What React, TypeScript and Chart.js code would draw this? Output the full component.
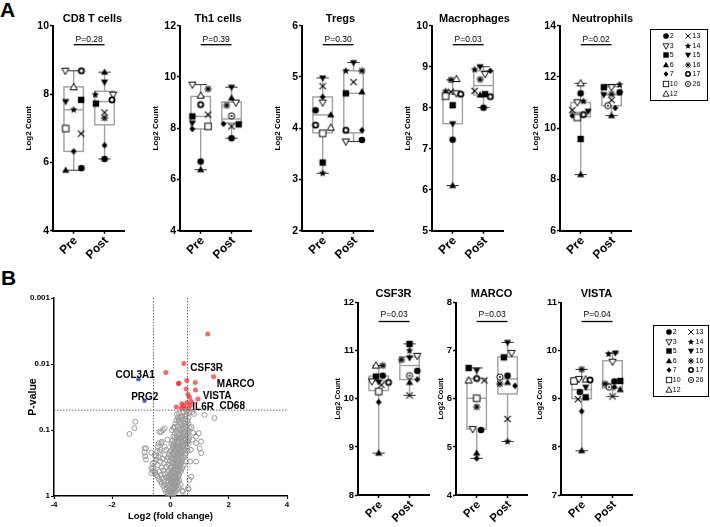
import React, { useEffect, useRef } from 'react';
import { Chart, registerables } from 'chart.js';
Chart.register(...registerables);

const FONT = '"Liberation Sans", Arial, Helvetica, sans-serif';

type Pt = [number, number];

// ---------- DATA ----------
const patientIds = [2, 3, 5, 6, 7, 10, 12, 13, 14, 15, 16, 17, 26];
const groupLabels = ['Pre', 'Post'];

// [patient id, log2 count]
const cd8Pre: Pt[] = [[3, 8.68], [17, 8.68], [12, 8.2], [15, 7.78], [5, 7.83], [14, 7.54], [10, 6.99], [13, 6.84], [7, 6.32], [6, 5.77], [2, 5.83]];
const cd8PreDx = [-0.27, 0.25, 0, -0.26, 0.24, 0, -0.26, 0.24, 0, -0.26, 0.25];
const cd8Post: Pt[] = [[6, 8.64], [15, 8.35], [14, 7.98], [3, 7.98], [5, 7.72], [17, 7.83], [13, 7.46], [16, 7.3], [7, 6.5], [2, 6.1]];
const cd8PostDx = [0, 0, -0.3, 0.28, -0.28, 0.24, 0, 0, 0, 0];
const cd8PreBox = [5.77, 6.32, 7.54, 8.21, 8.68];
const cd8PostBox = [6.1, 7.1, 7.78, 8.08, 8.64];

const th1Pre: Pt[] = [[3, 9.7], [16, 9.53], [12, 9.27], [17, 8.92], [5, 8.46], [13, 8.53], [15, 8.2], [10, 8.07], [7, 7.97], [2, 6.7], [6, 6.38]];
const th1PreDx = [-0.27, 0.24, 0, 0, -0.27, 0.24, -0.27, 0.24, -0.27, 0, 0];
const th1Post: Pt[] = [[15, 9.6], [6, 9.18], [16, 8.89], [3, 9.0], [26, 8.48], [7, 8.17], [13, 8.07], [5, 8.15], [2, 7.61]];
const th1PostDx = [0, 0, -0.16, 0.14, 0, -0.26, 0, 0.23, 0];
const th1PreBox = [6.38, 7.97, 8.46, 9.24, 9.7];
const th1PostBox = [7.61, 8.2, 8.36, 9.02, 9.6];

const tregPre: Pt[] = [[15, 4.98], [13, 4.82], [7, 4.61], [3, 4.5], [2, 4.35], [6, 4.26], [17, 4.06], [12, 4.01], [10, 3.9], [5, 3.33], [14, 3.12]];
const tregPreDx = [0, 0, 0, 0, -0.23, 0.26, -0.23, 0.26, 0, 0, 0];
const tregPost: Pt[] = [[15, 5.28], [14, 5.12], [16, 5.12], [13, 4.9], [5, 4.68], [6, 4.71], [17, 3.96], [7, 3.96], [3, 3.74], [2, 3.77]];
const tregPostDx = [0, -0.25, 0.27, 0, -0.25, 0.27, -0.25, 0.27, -0.25, 0.27];
const tregPreBox = [3.12, 3.91, 4.26, 4.61, 4.98];
const tregPostBox = [3.74, 3.91, 4.68, 5.12, 5.28];

const macPre: Pt[] = [[16, 8.68], [12, 8.7], [14, 8.4], [13, 8.39], [3, 8.35], [17, 8.33], [10, 8.28], [5, 8.06], [15, 7.61], [2, 7.22], [6, 6.1]];
const macPreDx = [-0.06, 0.12, -0.23, -0.06, 0.12, 0.26, -0.23, 0, 0, 0, 0];
const macPost: Pt[] = [[14, 8.93], [15, 9.0], [7, 8.9], [3, 8.82], [16, 8.69], [13, 8.41], [6, 8.31], [5, 8.33], [17, 8.27], [2, 8.0]];
const macPostDx = [-0.29, -0.11, 0.22, 0.05, -0.11, -0.29, -0.11, 0.05, 0.22, 0];
const macPreBox = [6.1, 7.61, 8.33, 8.38, 8.68];
const macPostBox = [8.0, 8.31, 8.54, 8.9, 9.0];

const neuPre: Pt[] = [[12, 11.75], [2, 11.36], [3, 11.01], [14, 11.05], [13, 10.71], [7, 10.49], [15, 10.66], [10, 10.42], [17, 10.53], [5, 9.58], [6, 8.19]];
const neuPreDx = [0, 0, -0.11, 0.09, -0.27, -0.27, 0.24, -0.11, 0.09, 0, 0];
const neuPost: Pt[] = [[5, 11.6], [3, 11.6], [14, 11.7], [15, 11.31], [16, 11.33], [2, 11.4], [13, 11.1], [26, 10.88], [7, 10.79], [6, 10.49]];
const neuPostDx = [-0.25, 0, 0.26, -0.25, 0, 0.26, 0, -0.12, 0.12, 0];
const neuPreBox = [8.19, 10.45, 10.62, 11.0, 11.75];
const neuPostBox = [10.49, 10.88, 11.3, 11.62, 11.7];

const csfPre: Pt[] = [[12, 10.69], [16, 10.69], [5, 10.46], [2, 10.48], [3, 10.36], [15, 10.35], [13, 10.29], [17, 10.34], [10, 10.15], [7, 9.93], [6, 8.87]];
const csfPreDx = [-0.09, 0.13, -0.09, 0.13, -0.22, 0, 0.09, 0.32, 0, 0, 0];
const csfPost: Pt[] = [[5, 11.14], [14, 11.0], [15, 10.85], [16, 10.81], [3, 10.89], [2, 10.58], [26, 10.48], [7, 10.4], [6, 10.34], [13, 10.07]];
const csfPostDx = [0, 0, 0, -0.26, 0.25, 0.25, 0, 0.25, 0, 0];
const csfPreBox = [8.87, 10.17, 10.37, 10.47, 10.69];
const csfPostBox = [10.07, 10.4, 10.69, 10.87, 11.14];

const marPre: Pt[] = [[5, 6.64], [15, 6.59], [17, 6.42], [12, 6.38], [13, 6.38], [10, 6.01], [16, 5.83], [3, 5.37], [2, 5.35], [6, 4.87], [7, 4.76]];
const marPreDx = [-0.26, 0, 0, -0.26, 0.25, 0, 0, -0.13, 0.14, 0, 0];
const marPost: Pt[] = [[15, 7.17], [3, 6.95], [5, 6.86], [26, 6.45], [2, 6.48], [16, 6.31], [6, 6.34], [7, 6.27], [13, 5.58], [14, 5.11]];
const marPostDx = [0, 0.13, -0.12, -0.25, 0, -0.25, 0, 0.24, 0, 0];
const marPreBox = [4.76, 5.37, 6.01, 6.42, 6.64];
const marPostBox = [5.11, 6.1, 6.41, 6.87, 7.17];

const visPre: Pt[] = [[16, 9.61], [10, 9.37], [3, 9.41], [12, 9.4], [17, 9.39], [15, 9.24], [2, 9.14], [13, 8.99], [5, 9.03], [7, 8.74], [6, 7.92]];
const visPreDx = [0, -0.25, -0.09, 0.13, 0.27, 0.13, -0.06, -0.12, 0.13, 0, 0];
const visPost: Pt[] = [[14, 9.93], [15, 9.95], [3, 9.77], [16, 9.31], [26, 9.24], [2, 9.36], [5, 9.37], [7, 9.24], [6, 9.19], [13, 9.05]];
const visPostDx = [-0.13, 0.09, 0, -0.24, -0.11, 0.06, 0.25, 0.06, 0.25, 0];
const visPreBox = [7.92, 9.0, 9.19, 9.41, 9.61];
const visPostBox = [9.05, 9.22, 9.32, 9.79, 9.95];

// Volcano: [log2 fold change, p-value]
const volcanoGray: Pt[] = [
  [0.02, 0.99], [-0.05, 0.96], [0.08, 0.95], [-0.1, 0.92], [0.12, 0.91], [0.0, 0.89], [-0.15, 0.87], [0.05, 0.86], [0.18, 0.85],
  [-0.08, 0.83], [0.1, 0.81], [-0.2, 0.79], [0.22, 0.79], [0.0, 0.77], [-0.12, 0.75], [0.15, 0.74], [0.28, 0.73], [-0.25, 0.71],
  [0.06, 0.71], [-0.04, 0.69], [0.2, 0.69], [0.35, 0.68], [-0.18, 0.67], [0.12, 0.65], [-0.3, 0.65], [0.25, 0.63], [0.02, 0.63],
  [0.4, 0.83], [0.62, 0.79], [0.71, 0.51], [0.42, 0.86], [0.6, 0.76], [0.65, 0.57],
  [-0.35, 0.6], [-0.22, 0.6], [-0.1, 0.58], [-0.4, 0.55], [-0.28, 0.54], [-0.15, 0.52], [-0.05, 0.5], [-0.45, 0.5], [-0.33, 0.48],
  [-0.2, 0.46], [-0.52, 0.45], [-0.1, 0.44], [-0.38, 0.43], [-0.25, 0.41], [-0.6, 0.42], [-0.66, 0.45], [-0.6, 0.38], [-0.49, 0.28],
  [-0.3, 0.37], [-0.15, 0.36], [-0.44, 0.34], [-0.22, 0.32], [-0.35, 0.3], [-0.55, 0.31], [-0.12, 0.29], [-0.28, 0.27], [-0.4, 0.26],
  [-0.5, 0.25], [-0.66, 0.22], [-0.84, 0.28], [-0.87, 0.25], [-0.89, 0.22], [-0.89, 0.19], [-0.61, 0.32], [-0.66, 0.38], [-0.55, 0.43],
  [-0.49, 0.48], [-0.55, 0.24], [-0.84, 0.19], [-0.38, 0.214], [-0.2, 0.24],
  [-0.41, 0.16], [-0.32, 0.107], [-0.2, 0.094], [-0.26, 0.1], [-0.38, 0.107], [-0.35, 0.2], [-0.2, 0.18], [-0.3, 0.15], [-0.45, 0.21],
  [-0.1, 0.14], [-0.15, 0.2], [-0.32, 0.158], [-0.44, 0.178],
  [-1.41, 0.115], [-1.24, 0.094], [-1.21, 0.075],
  [0.3, 0.056], [0.45, 0.055], [0.55, 0.058], [0.38, 0.06], [0.25, 0.064], [0.5, 0.062], [0.62, 0.065], [0.35, 0.066],
  [0.2, 0.072], [0.42, 0.07], [0.58, 0.073], [0.3, 0.075], [0.48, 0.078], [0.16, 0.08], [0.37, 0.082], [0.62, 0.08],
  [0.25, 0.088], [0.53, 0.09], [0.1, 0.092], [0.43, 0.094], [0.66, 0.093], [0.32, 0.1], [0.2, 0.104], [0.57, 0.101], [0.47, 0.107], [0.05, 0.1],
  [0.15, 0.112], [0.38, 0.113], [0.6, 0.115], [0.28, 0.118], [0.5, 0.12], [0.1, 0.126], [0.42, 0.125], [0.22, 0.13], [0.56, 0.128], [0.33, 0.134], [0.65, 0.132],
  [0.18, 0.14], [0.48, 0.142], [0.07, 0.145], [0.3, 0.148], [0.6, 0.146], [0.4, 0.15], [0.12, 0.158], [0.25, 0.16], [0.52, 0.157], [0.36, 0.165],
  [0.03, 0.163], [0.45, 0.168], [0.62, 0.162], [0.2, 0.176], [0.08, 0.18], [0.4, 0.178], [0.3, 0.185], [0.55, 0.183], [0.15, 0.19],
  [0.05, 0.2], [0.25, 0.198], [0.47, 0.2], [0.35, 0.205], [0.12, 0.21], [0.58, 0.208], [-0.02, 0.212], [0.2, 0.222], [0.4, 0.225], [0.08, 0.23],
  [0.3, 0.232], [0.52, 0.228], [-0.05, 0.235], [0.15, 0.248], [0.35, 0.25], [0.02, 0.255], [0.25, 0.26], [0.45, 0.258], [-0.1, 0.262],
  [0.1, 0.28], [0.3, 0.282], [0.2, 0.29], [0.4, 0.288], [-0.02, 0.295], [0.5, 0.3], [0.05, 0.316], [0.25, 0.32], [0.15, 0.33], [0.35, 0.325],
  [-0.08, 0.335], [0.45, 0.34], [0.1, 0.355], [0.2, 0.36], [0.3, 0.37], [0.0, 0.365], [0.4, 0.375], [0.08, 0.4], [0.18, 0.405], [-0.05, 0.41],
  [0.28, 0.415], [0.36, 0.42], [0.12, 0.45], [0.0, 0.455], [0.22, 0.46], [0.3, 0.47], [0.05, 0.5], [0.15, 0.51], [0.25, 0.52], [-0.08, 0.515],
  [0.1, 0.56], [0.2, 0.57], [0.0, 0.575], [0.3, 0.58], [0.08, 0.62], [0.18, 0.63], [-0.06, 0.61],
  [0.22, 0.058], [0.4, 0.063], [0.52, 0.068], [0.28, 0.07], [0.35, 0.077], [0.55, 0.083], [0.45, 0.086], [0.15, 0.09], [0.3, 0.095],
  [0.4, 0.1], [0.62, 0.105], [0.25, 0.11], [0.45, 0.115], [0.55, 0.122], [0.35, 0.127], [0.15, 0.13], [0.28, 0.138], [0.5, 0.137],
  [0.38, 0.143], [0.22, 0.152], [0.58, 0.153], [0.1, 0.168], [0.33, 0.172], [0.5, 0.174], [0.25, 0.18], [0.45, 0.19], [0.18, 0.2],
  [0.4, 0.21], [0.28, 0.215], [0.1, 0.22], [0.5, 0.24], [0.25, 0.24], [0.38, 0.265], [0.08, 0.27], [0.18, 0.272], [0.28, 0.3],
  [0.38, 0.305], [0.1, 0.31], [0.2, 0.34], [0.3, 0.345], [0.05, 0.37], [0.15, 0.38], [0.25, 0.39], [0.35, 0.395], [0.12, 0.42],
  [0.22, 0.43], [0.05, 0.44], [0.18, 0.48], [0.28, 0.495], [0.0, 0.49], [0.1, 0.53], [0.22, 0.54], [-0.04, 0.545], [0.15, 0.6],
  [0.05, 0.59], [0.25, 0.6], [0.1, 0.68], [-0.1, 0.7], [0.15, 0.8], [0.05, 0.92], [-0.02, 0.84], [0.08, 0.76],
  [0.88, 0.126], [1.05, 0.15], [1.0, 0.19], [1.05, 0.224], [1.17, 0.059], [1.51, 0.066], [0.97, 0.112], [0.88, 0.158], [0.88, 0.3],
  [0.72, 0.09], [0.75, 0.14], [0.7, 0.2], [0.78, 0.11], [0.68, 0.3], [0.55, 0.052], [0.65, 0.054], [0.75, 0.053], [0.8, 0.057],
];
const volcanoUp: Pt[] = [
  [1.28, 0.0035], [0.46, 0.0098], [-0.16, 0.0134], [1.48, 0.0156], [0.56, 0.0178], [0.29, 0.0195], [0.27, 0.0197], [0.85, 0.019],
  [0.54, 0.024], [0.86, 0.0247], [0.6, 0.029], [0.94, 0.034], [0.65, 0.032], [0.39, 0.04], [0.56, 0.0386], [0.71, 0.037],
  [0.68, 0.042], [0.2, 0.045], [0.37, 0.047], [0.51, 0.047], [0.63, 0.048], [0.45, 0.043],
];
const volcanoDown: Pt[] = [[-1.1, 0.017], [-0.89, 0.036]];
const geneLabelNames = ['COL3A1', 'PRG2', 'CSF3R', 'MARCO', 'VISTA', 'IL6R', 'CD68'];
const geneLabelAnchors: Pt[] = [[-1.89, 0.0147], [-1.35, 0.0324], [0.68, 0.0116], [1.59, 0.02], [1.11, 0.0313], [0.75, 0.0453], [1.68, 0.0433]];
const fcCut = 0.585;
const pCut = 0.05;
const volcanoXTicks = [-4, -2, 0, 2, 4];
const volcanoYTicks = [0.001, 0.01, 0.1, 1];

// ---------- MARKERS ----------
function drawMarker(ctx: CanvasRenderingContext2D, id: number, c: number) {
  ctx.fillStyle = '#000';
  ctx.strokeStyle = '#000';
  ctx.lineWidth = 1;
  const poly = (pts: number[][], filled: boolean) => {
    ctx.beginPath();
    pts.forEach(([x, y], i) => (i ? ctx.lineTo(c + x, c + y) : ctx.moveTo(c + x, c + y)));
    ctx.closePath();
    if (filled) { ctx.fillStyle = '#000'; ctx.fill(); }
    else { ctx.fillStyle = '#fff'; ctx.fill(); ctx.stroke(); }
  };
  const up = [[0, -3.8], [3.6, 2.6], [-3.6, 2.6]];
  const down = [[0, 3.8], [3.6, -2.6], [-3.6, -2.6]];
  const line = (x1: number, y1: number, x2: number, y2: number) => {
    ctx.beginPath(); ctx.moveTo(c + x1, c + y1); ctx.lineTo(c + x2, c + y2); ctx.stroke();
  };
  switch (id) {
    case 2: ctx.beginPath(); ctx.arc(c, c, 3.3, 0, Math.PI * 2); ctx.fill(); break;
    case 3: poly(down, false); break;
    case 5: ctx.fillRect(c - 3.2, c - 3.2, 6.4, 6.4); break;
    case 6: poly(up, true); break;
    case 7: poly([[0, -3.3], [2.9, 0], [0, 3.3], [-2.9, 0]], true); break;
    case 10: ctx.fillStyle = '#fff'; ctx.fillRect(c - 3.2, c - 3.2, 6.4, 6.4); ctx.strokeRect(c - 3.2, c - 3.2, 6.4, 6.4); break;
    case 12: poly(up, false); break;
    case 13: ctx.lineWidth = 1.1; line(-3.2, -3.2, 3.2, 3.2); line(-3.2, 3.2, 3.2, -3.2); break;
    case 14: {
      const pts: number[][] = [];
      for (let k = 0; k < 10; k++) {
        const a = -Math.PI / 2 + (k * Math.PI) / 5;
        const r = k % 2 ? 1.7 : 4;
        pts.push([r * Math.cos(a), r * Math.sin(a)]);
      }
      poly(pts, true);
      break;
    }
    case 15: poly(down, true); break;
    case 16: {
      ctx.lineWidth = 1.1;
      line(0, -3.6, 0, 3.6); line(-3.6, 0, 3.6, 0);
      line(-2.6, -2.6, 2.6, 2.6); line(-2.6, 2.6, 2.6, -2.6);
      ctx.beginPath(); ctx.arc(c, c, 1.3, 0, Math.PI * 2); ctx.fill();
      break;
    }
    case 17: ctx.lineWidth = 1.8; ctx.fillStyle = '#fff'; ctx.beginPath(); ctx.arc(c, c, 2.6, 0, Math.PI * 2); ctx.fill(); ctx.stroke(); break;
    case 26: {
      ctx.fillStyle = '#fff'; ctx.beginPath(); ctx.arc(c, c, 3.1, 0, Math.PI * 2); ctx.fill(); ctx.stroke();
      ctx.fillStyle = '#000'; ctx.beginPath(); ctx.arc(c, c, 1, 0, Math.PI * 2); ctx.fill();
      break;
    }
  }
}

const markerCache = new Map<number, HTMLCanvasElement>();
function markerCanvas(id: number): HTMLCanvasElement {
  let cv = markerCache.get(id);
  if (!cv) {
    cv = document.createElement('canvas');
    cv.width = 12; cv.height = 12;
    drawMarker(cv.getContext('2d')!, id, 6);
    markerCache.set(id, cv);
  }
  return cv;
}

// ---------- LAYOUT ----------
interface Row { top: number; height: number; areaTop: number; areaBottom: number; titleY: number; pTextY: number; pLineY: number; tickSize: number; yTitleSize: number; labelSize: number; }
const ROW_A: Row = { top: 0, height: 265, areaTop: 25.7, areaBottom: 230.7, titleY: 18.5, pTextY: 39.5, pLineY: 44.7, tickSize: 10.5, yTitleSize: 8, labelSize: 12 };
const ROW_B: Row = { top: 270, height: 257, areaTop: 302.5, areaBottom: 495, titleY: 293.5, pTextY: 314.5, pLineY: 321.5, tickSize: 9.5, yTitleSize: 7.5, labelSize: 11.5 };

const PRE_X = 0.67, POST_X = 1.67, X_MAX = 2.3;
const BOX_HALF = 0.315, CAP_HALF = 0.2;
const LEFT_PAD = 20, Y_AXIS_W = 30, PLOT_W = 71, RIGHT_PAD = 14;

interface Panel {
  title: string; pText: string; yMin: number; yMax: number; yStep: number;
  pre: Pt[]; preDx: number[]; post: Pt[]; postDx: number[]; preBox: number[]; postBox: number[];
  axisX: number; row: Row; titleDx: number; yTitleGap: number;
}

const panels: Panel[] = [
  { title: 'CD8 T cells', pText: 'P=0.28', yMin: 4, yMax: 10, yStep: 2, pre: cd8Pre, preDx: cd8PreDx, post: cd8Post, postDx: cd8PostDx, preBox: cd8PreBox, postBox: cd8PostBox, axisX: 53, row: ROW_A, titleDx: 4, yTitleGap: 24 },
  { title: 'Th1 cells', pText: 'P=0.39', yMin: 4, yMax: 12, yStep: 2, pre: th1Pre, preDx: th1PreDx, post: th1Post, postDx: th1PostDx, preBox: th1PreBox, postBox: th1PostBox, axisX: 180, row: ROW_A, titleDx: 2.5, yTitleGap: 24 },
  { title: 'Tregs', pText: 'P=0.30', yMin: 2, yMax: 6, yStep: 1, pre: tregPre, preDx: tregPreDx, post: tregPost, postDx: tregPostDx, preBox: tregPreBox, postBox: tregPostBox, axisX: 302, row: ROW_A, titleDx: 3, yTitleGap: 24 },
  { title: 'Macrophages', pText: 'P=0.03', yMin: 5, yMax: 10, yStep: 1, pre: macPre, preDx: macPreDx, post: macPost, postDx: macPostDx, preBox: macPreBox, postBox: macPostBox, axisX: 432, row: ROW_A, titleDx: 7, yTitleGap: 24 },
  { title: 'Neutrophils', pText: 'P=0.02', yMin: 6, yMax: 14, yStep: 2, pre: neuPre, preDx: neuPreDx, post: neuPost, postDx: neuPostDx, preBox: neuPreBox, postBox: neuPostBox, axisX: 560, row: ROW_A, titleDx: 7, yTitleGap: 24 },
  { title: 'CSF3R', pText: 'P=0.03', yMin: 8, yMax: 12, yStep: 1, pre: csfPre, preDx: csfPreDx, post: csfPost, postDx: csfPostDx, preBox: csfPreBox, postBox: csfPostBox, axisX: 358, row: ROW_B, titleDx: 0, yTitleGap: 20.5 },
  { title: 'MARCO', pText: 'P=0.03', yMin: 4, yMax: 8, yStep: 1, pre: marPre, preDx: marPreDx, post: marPost, postDx: marPostDx, preBox: marPreBox, postBox: marPostBox, axisX: 456, row: ROW_B, titleDx: 0, yTitleGap: 15.5 },
  { title: 'VISTA', pText: 'P=0.04', yMin: 7, yMax: 11, yStep: 1, pre: visPre, preDx: visPreDx, post: visPost, postDx: visPostDx, preBox: visPreBox, postBox: visPostBox, axisX: 561, row: ROW_B, titleDx: 0, yTitleGap: 21 },
];

function boxPlugin(panel: Panel) {
  const row = panel.row;
  return {
    id: 'boxPanel',
    beforeDatasetsDraw(chart: any) {
      const { ctx, scales: { x, y } } = chart;
      const groups: [number, number[]][] = [[PRE_X, panel.preBox], [POST_X, panel.postBox]];
      ctx.save();
      groups.forEach(([cx, b]) => {
        const [mn, q1, med, q3, mx] = b;
        const xl = x.getPixelForValue(cx - BOX_HALF);
        const xr = x.getPixelForValue(cx + BOX_HALF);
        const xc = x.getPixelForValue(cx);
        const cl = x.getPixelForValue(cx - CAP_HALF);
        const cr = x.getPixelForValue(cx + CAP_HALF);
        const seg = (x1: number, y1: number, x2: number, y2: number) => { ctx.beginPath(); ctx.moveTo(x1, y1); ctx.lineTo(x2, y2); ctx.stroke(); };
        ctx.strokeStyle = '#a0a0a0';
        ctx.lineWidth = 1.4;
        seg(xc, y.getPixelForValue(mn), xc, y.getPixelForValue(q1));
        seg(xc, y.getPixelForValue(q3), xc, y.getPixelForValue(mx));
        ctx.strokeRect(xl, y.getPixelForValue(q3), xr - xl, y.getPixelForValue(q1) - y.getPixelForValue(q3));
        seg(xl, y.getPixelForValue(med), xr, y.getPixelForValue(med));
        ctx.strokeStyle = '#333';
        ctx.lineWidth = 1;
        seg(cl, y.getPixelForValue(mn), cr, y.getPixelForValue(mn));
        seg(cl, y.getPixelForValue(mx), cr, y.getPixelForValue(mx));
      });
      ctx.restore();
    },
    afterDraw(chart: any) {
      const { ctx, chartArea, scales: { x } } = chart;
      ctx.save();
      ctx.fillStyle = '#000';
      ctx.textAlign = 'center';
      ctx.textBaseline = 'middle';
      ctx.font = `bold 11px ${FONT}`;
      ctx.fillText(panel.title, (chartArea.left + chartArea.right) / 2 + panel.titleDx, row.titleY - row.top);
      const xp = x.getPixelForValue(PRE_X);
      const xq = x.getPixelForValue(POST_X);
      ctx.font = `8.5px ${FONT}`;
      ctx.fillText(panel.pText, (xp + xq) / 2, row.pTextY - row.top);
      ctx.strokeStyle = '#000';
      ctx.lineWidth = 1.3;
      ctx.beginPath();
      ctx.moveTo(xp, row.pLineY - row.top);
      ctx.lineTo(xq, row.pLineY - row.top);
      ctx.stroke();
      ctx.restore();
    },
  };
}

function boxConfig(panel: Panel): any {
  const row = panel.row;
  const areaTop = row.areaTop - row.top;
  const areaBottom = row.areaBottom - row.top;
  const yTitleLH = row.yTitleSize * 1.2;
  const axisCanvasX = LEFT_PAD + Y_AXIS_W;
  const yTitlePad = Math.max(0, axisCanvasX - panel.yTitleGap - LEFT_PAD - yTitleLH / 2);
  const mk = (pts: Pt[], dx: number[], cx: number) => ({
    data: pts.map((p, i) => ({ x: cx + dx[i], y: p[1] })),
    pointStyle: pts.map((p) => markerCanvas(p[0])),
    pointRadius: 4,
    pointHoverRadius: 4,
    showLine: false,
  });
  const axisCommon = {
    grid: { display: true, drawOnChartArea: false, drawTicks: true, tickLength: 3, tickWidth: 1.5, tickColor: '#000' },
    border: { display: true, color: '#000', width: 2 },
  };
  return {
    type: 'scatter',
    data: { datasets: [mk(panel.pre, panel.preDx, PRE_X), mk(panel.post, panel.postDx, POST_X)] },
    options: {
      animation: false,
      responsive: false,
      maintainAspectRatio: false,
      events: [],
      layout: { padding: { left: LEFT_PAD, top: areaTop, right: RIGHT_PAD, bottom: 0 } },
      plugins: { legend: { display: false }, tooltip: { enabled: false }, title: { display: false } },
      scales: {
        x: {
          type: 'linear', min: 0, max: X_MAX,
          afterBuildTicks: (s: any) => { s.ticks = [{ value: PRE_X }, { value: POST_X }]; },
          afterFit: (s: any) => { s.height = row.height - areaBottom; },
          ticks: {
            autoSkip: false, minRotation: 45, maxRotation: 45, padding: 0, labelOffset: 2, color: '#000',
            font: { family: FONT, size: row.labelSize, weight: 'bold' },
            callback: (v: number) => (Math.abs(v - PRE_X) < 1e-6 ? groupLabels[0] : groupLabels[1]),
          },
          ...axisCommon,
        },
        y: {
          type: 'linear', min: panel.yMin, max: panel.yMax,
          afterFit: (s: any) => { s.width = Y_AXIS_W; },
          ticks: { stepSize: panel.yStep, padding: 1, color: '#000', font: { family: FONT, size: row.tickSize, weight: 'bold' } },
          title: { display: true, text: 'Log2 Count', color: '#000', font: { family: FONT, size: row.yTitleSize, weight: 'bold' }, padding: { top: yTitlePad, bottom: 0 } },
          ...axisCommon,
        },
      },
    },
    plugins: [boxPlugin(panel)],
  };
}

const labelPlugin = {
  id: 'geneLabels',
  afterDatasetsDraw(chart: any) {
    const { ctx, scales: { x, y } } = chart;
    ctx.save();
    ctx.fillStyle = '#000';
    ctx.font = `bold 10px ${FONT}`;
    ctx.textAlign = 'left';
    ctx.textBaseline = 'middle';
    geneLabelNames.forEach((name, i) => {
      const [fc, p] = geneLabelAnchors[i];
      ctx.fillText(name, x.getPixelForValue(fc), y.getPixelForValue(p));
    });
    ctx.restore();
  },
};

function volcanoConfig(): any {
  const dash = { showLine: true, pointRadius: 0, borderColor: '#666', borderWidth: 1, borderDash: [1.5, 1.5] };
  const toXY = (arr: Pt[]) => arr.map(([x, y]) => ({ x, y }));
  const axisCommon = {
    grid: { display: true, drawOnChartArea: false, drawTicks: true, tickLength: 3, tickWidth: 1.2, tickColor: '#000' },
    border: { display: true, color: '#000', width: 1.5 },
  };
  return {
    type: 'scatter',
    data: {
      datasets: [
        { ...dash, data: [{ x: -fcCut, y: volcanoYTicks[0] }, { x: -fcCut, y: 1 }] },
        { ...dash, data: [{ x: fcCut, y: volcanoYTicks[0] }, { x: fcCut, y: 1 }] },
        { ...dash, data: [{ x: -4, y: pCut }, { x: 4, y: pCut }] },
        { data: toXY(volcanoGray), pointRadius: 2.5, pointBackgroundColor: 'rgba(255,255,255,0)', pointBorderColor: '#999', pointBorderWidth: 1 },
        { data: toXY(volcanoUp), pointRadius: 2.5, pointBackgroundColor: 'rgba(245,45,45,0.72)', pointBorderWidth: 0 },
        { data: toXY(volcanoDown), pointRadius: 2.2, pointBackgroundColor: '#4a5bd4', pointBorderWidth: 0 },
      ],
    },
    options: {
      animation: false,
      responsive: false,
      maintainAspectRatio: false,
      events: [],
      layout: { padding: { left: 20, top: 28, right: 13, bottom: 0 } },
      plugins: { legend: { display: false }, tooltip: { enabled: false } },
      scales: {
        x: {
          type: 'linear', min: -4, max: 4,
          afterBuildTicks: (s: any) => { s.ticks = volcanoXTicks.map((v) => ({ value: v })); },
          afterFit: (s: any) => { s.height = 31; },
          ticks: { maxRotation: 0, padding: 1, color: '#000', font: { family: FONT, size: 8, weight: 'bold' } },
          title: { display: true, text: 'Log2 (fold change)', color: '#000', font: { family: FONT, size: 9.5, weight: 'bold' }, padding: { top: 0, bottom: 4.6 } },
          ...axisCommon,
        },
        y: {
          type: 'logarithmic', reverse: true, min: 0.001, max: 1,
          afterBuildTicks: (s: any) => { s.ticks = volcanoYTicks.map((v) => ({ value: v })); },
          afterFit: (s: any) => { s.width = 34; },
          ticks: { padding: 1, color: '#000', font: { family: FONT, size: 8, weight: 'bold' }, callback: (v: number) => String(v) },
          title: { display: true, text: 'P-value', color: '#000', font: { family: FONT, size: 10.5, weight: 'bold' }, padding: { top: 7, bottom: 0 } },
          ...axisCommon,
        },
      },
    },
    plugins: [labelPlugin],
  };
}

// ---------- COMPONENTS ----------
function ChartCanvas({ make, left, top, width, height }: { make: () => any; left: number; top: number; width: number; height: number }) {
  const ref = useRef<HTMLCanvasElement>(null);
  useEffect(() => {
    const chart = new Chart(ref.current!, make());
    return () => chart.destroy();
  }, []);
  return <canvas ref={ref} width={width} height={height} style={{ position: 'absolute', left, top, width, height }} />;
}

function MarkerIcon({ id, left, top }: { id: number; left: number; top: number }) {
  const ref = useRef<HTMLCanvasElement>(null);
  useEffect(() => {
    const ctx = ref.current!.getContext('2d')!;
    ctx.clearRect(0, 0, 12, 12);
    ctx.save();
    ctx.translate(6, 6);
    ctx.scale(0.85, 0.85);
    ctx.translate(-6, -6);
    drawMarker(ctx, id, 6);
    ctx.restore();
  }, [id]);
  return <canvas ref={ref} width={12} height={12} style={{ position: 'absolute', left, top, width: 12, height: 12 }} />;
}

function PatientLegend({ left, top, width, height }: { left: number; top: number; width: number; height: number }) {
  const rowH = 9.55;
  return (
    <div style={{ position: 'absolute', left, top, width, height, border: '1.5px solid #000', boxSizing: 'border-box', background: '#fff' }}>
      {patientIds.map((id, i) => {
        const col = i < 7 ? 0 : 1;
        const r = col === 0 ? i : i - 7;
        const cy = 7.7 + r * rowH - 1.5;
        const mx = (col === 0 ? 16.3 : 38.5) - 1.5;
        const tx = (col === 0 ? 20.3 : 43) - 1.5;
        return (
          <React.Fragment key={id}>
            <MarkerIcon id={id} left={mx - 6} top={cy - 6} />
            <span style={{ position: 'absolute', left: tx, top: cy - 4, fontFamily: FONT, fontSize: 7, lineHeight: '8px', color: '#000', whiteSpace: 'nowrap' }}>{id}</span>
          </React.Fragment>
        );
      })}
    </div>
  );
}

export default function App() {
  return (
    <div style={{ position: 'fixed', left: 0, top: 0, width: 710, height: 527, background: '#fff', overflow: 'hidden' }}>
      <div style={{ position: 'absolute', left: 0, top: -1.1, fontFamily: FONT, fontWeight: 'bold', fontSize: 21, lineHeight: '21px' }}>A</div>
      <div style={{ position: 'absolute', left: 1, top: 267.2, fontFamily: FONT, fontWeight: 'bold', fontSize: 21, lineHeight: '21px' }}>B</div>
      {panels.map((p) => (
        <ChartCanvas
          key={p.title}
          make={() => boxConfig(p)}
          left={p.axisX - LEFT_PAD - Y_AXIS_W}
          top={p.row.top}
          width={LEFT_PAD + Y_AXIS_W + PLOT_W + RIGHT_PAD}
          height={p.row.height}
        />
      ))}
      <ChartCanvas make={volcanoConfig} left={0} top={270} width={300} height={257} />
      <PatientLegend left={650} top={29} width={58} height={72} />
      <PatientLegend left={653} top={325} width={56} height={72} />
    </div>
  );
}
